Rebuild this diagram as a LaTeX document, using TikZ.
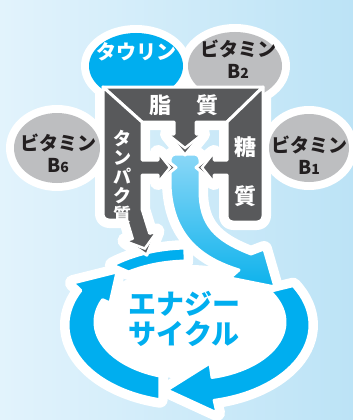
\documentclass[tikz,border=0pt]{standalone}
\usepackage{fontspec}
\newfontfamily\jpfont{Noto Sans CJK JP}

\definecolor{bgleft}{HTML}{E2F3FC}
\definecolor{bgright}{HTML}{BCE3F6}
\definecolor{energyblue}{HTML}{00AEEF}
\definecolor{bandtop}{HTML}{8AD7F7}
\definecolor{bandbottom}{HTML}{0DB2EC}
\definecolor{darkbox}{HTML}{58595B}
\definecolor{vitgray}{HTML}{BDBEC0}
\definecolor{textdark}{HTML}{231F20}

% outlines (pixel units, y going down)
\newcommand{\leftArcPath}{([shift={(189,325)}]104:121 and 77)
  arc[start angle=104, end angle=206.6, x radius=121, y radius=77]
  -- (73,283) -- (117,272) -- (110,303)
  -- ([shift={(190,322)}]203:95 and 57)
  arc[start angle=203, end angle=108.4, x radius=95, y radius=57] -- cycle}
\newcommand{\topArcPath}{([shift={(189,325)}]231:121 and 77)
  arc[start angle=231, end angle=268, x radius=121, y radius=77]
  -- ([shift={(189,325)}]268:108 and 64)
  arc[start angle=268, end angle=236, x radius=108, y radius=64] -- cycle}
\newcommand{\bottomArcPath}{([shift={(189,325)}]-30.7:121 and 77)
  arc[start angle=-30.7, end angle=78, x radius=121, y radius=77]
  -- (217,413) -- (167,390) -- (210,363)
  -- ([shift={(190,322)}]76.6:95 and 57)
  arc[start angle=76.6, end angle=-32.6, x radius=95, y radius=57] -- cycle}
\newcommand{\bandPath}{(170,185) -- (170,160)
  arc[start angle=180, end angle=270, radius=6] -- (194,154)
  arc[start angle=270, end angle=360, radius=6] -- (200,190)
  .. controls (200,225) and (215,240) .. (251,254)
  -- (264,249) -- (275,287) -- (230,278) -- (239,270)
  .. controls (200,258) and (172,235) .. (170,185) -- cycle}
\newcommand{\fatPath}{(103,87) -- (263,87) -- (227,122) -- (196,122)
  -- (196,134) -- (202,134) -- (185,155) -- (168,134) -- (174,134)
  -- (174,122) -- (142,122) -- cycle}
\newcommand{\proteinPath}{(103,87) -- (142,122) -- (142,160) -- (158,160)
  -- (158,153) -- (176,167.5) -- (158,182) -- (158,175) -- (142,175)
  -- (142,209) -- (149.6,233.4) -- (156.4,231.4) -- (146.8,255.2)
  -- (125.6,240.6) -- (132.4,238.6) -- (126.8,220) -- (109,220)
  arc[start angle=90, end angle=180, radius=6] -- cycle}
\newcommand{\sugarPath}{(263,87) -- (227,122) -- (227,160) -- (214,160)
  -- (214,153) -- (196,167.5) -- (214,182) -- (214,175) -- (227,175)
  -- (227,216) arc[start angle=180, end angle=90, radius=6] -- (257,222)
  arc[start angle=90, end angle=0, radius=6] -- cycle}

\begin{document}
\begin{tikzpicture}[x=1pt, y=-1pt,
    halo/.style={fill=white, draw=white, line width=16pt, line join=round},
    gap/.style={draw=white, line width=3pt, line join=round},
    chevron/.style={draw=white, line width=2.5pt},
    vitamin/.style={align=center, inner sep=0pt, text=textdark,
      font=\jpfont\bfseries\fontsize{19}{22}\selectfont},
    nutrient/.style={inner sep=0pt, text=white,
      font=\jpfont\bfseries\fontsize{22}{22}\selectfont}]

  % Background
  \useasboundingbox (0,0) rectangle (353,420);
  \shade[left color=bgleft, right color=bgright] (0,0) rectangle (353,420);

  % White halo
  \path[halo] (136,66) ellipse [x radius=47, y radius=33];
  \path[halo] (235,66) ellipse [x radius=47, y radius=34];
  \path[halo] (57,148) ellipse [x radius=43, y radius=35];
  \path[halo] (309,148) ellipse [x radius=40, y radius=34];
  \path[halo] \leftArcPath;
  \path[halo] \topArcPath;
  \path[halo] \bottomArcPath;
  \path[halo] \bandPath;
  \path[halo] \fatPath;
  \path[halo] \proteinPath;
  \path[halo] \sugarPath;
  \fill[white] (190,322) ellipse [x radius=95, y radius=57];

  % Bubbles
  \fill[energyblue] (136,66) ellipse [x radius=47, y radius=33];
  \fill[vitgray] (235,66) ellipse [x radius=47, y radius=34];
  \fill[vitgray] (57,148) ellipse [x radius=43, y radius=35];
  \fill[vitgray] (309,148) ellipse [x radius=40, y radius=34];

  % Energy cycle
  \path[fill=energyblue, gap] \leftArcPath;
  \path[fill=energyblue, gap] \topArcPath;
  \path[fill=energyblue, gap] \bottomArcPath;
  \shade[top color=bandtop, bottom color=bandbottom, gap] \bandPath;

  % Nutrients
  \path[fill=darkbox, gap] \fatPath;
  \path[fill=darkbox, gap] \proteinPath;
  \path[fill=darkbox, gap] \sugarPath;
  \draw[chevron] (170,136) -- (185,148) -- (200,136);
  \draw[chevron] (160,155) -- (170,167.5) -- (160,180);
  \draw[chevron] (212,155) -- (202,167.5) -- (212,180);
  \draw[chevron] (127.7,242.1) -- (144.8,248.5) -- (155.4,233.8);

  % Labels
  \node[inner sep=0pt, text=white, font=\jpfont\bfseries\fontsize{20}{20}\selectfont] (taurine) at (136,52) {タウリン};
  \node[vitamin] (vitB2) at (238,59) {ビタミン\\B{\fontsize{14}{14}\selectfont 2}};
  \node[vitamin] (vitB6) at (58,153) {ビタミン\\B{\fontsize{14}{14}\selectfont 6}};
  \node[vitamin] (vitB1) at (309,155) {ビタミン\\B{\fontsize{14}{14}\selectfont 1}};
  \node[nutrient] (fat) at (184,105) {脂\hspace{26pt}質};
  \node[nutrient] (sugar1) at (245.5,147.5) {糖};
  \node[nutrient] (sugar2) at (245.5,196) {質};
  \node[nutrient, align=center, font=\jpfont\bfseries\fontsize{18}{19}\selectfont] (protein) at (122,177) {タ\\ン\\パ\\ク\\質};
  \node[align=center, inner sep=0pt, text=energyblue, font=\jpfont\bfseries\fontsize{28}{30}\selectfont] (cycle) at (184,319) {エナジー\\サイクル};
\end{tikzpicture}
\end{document}
